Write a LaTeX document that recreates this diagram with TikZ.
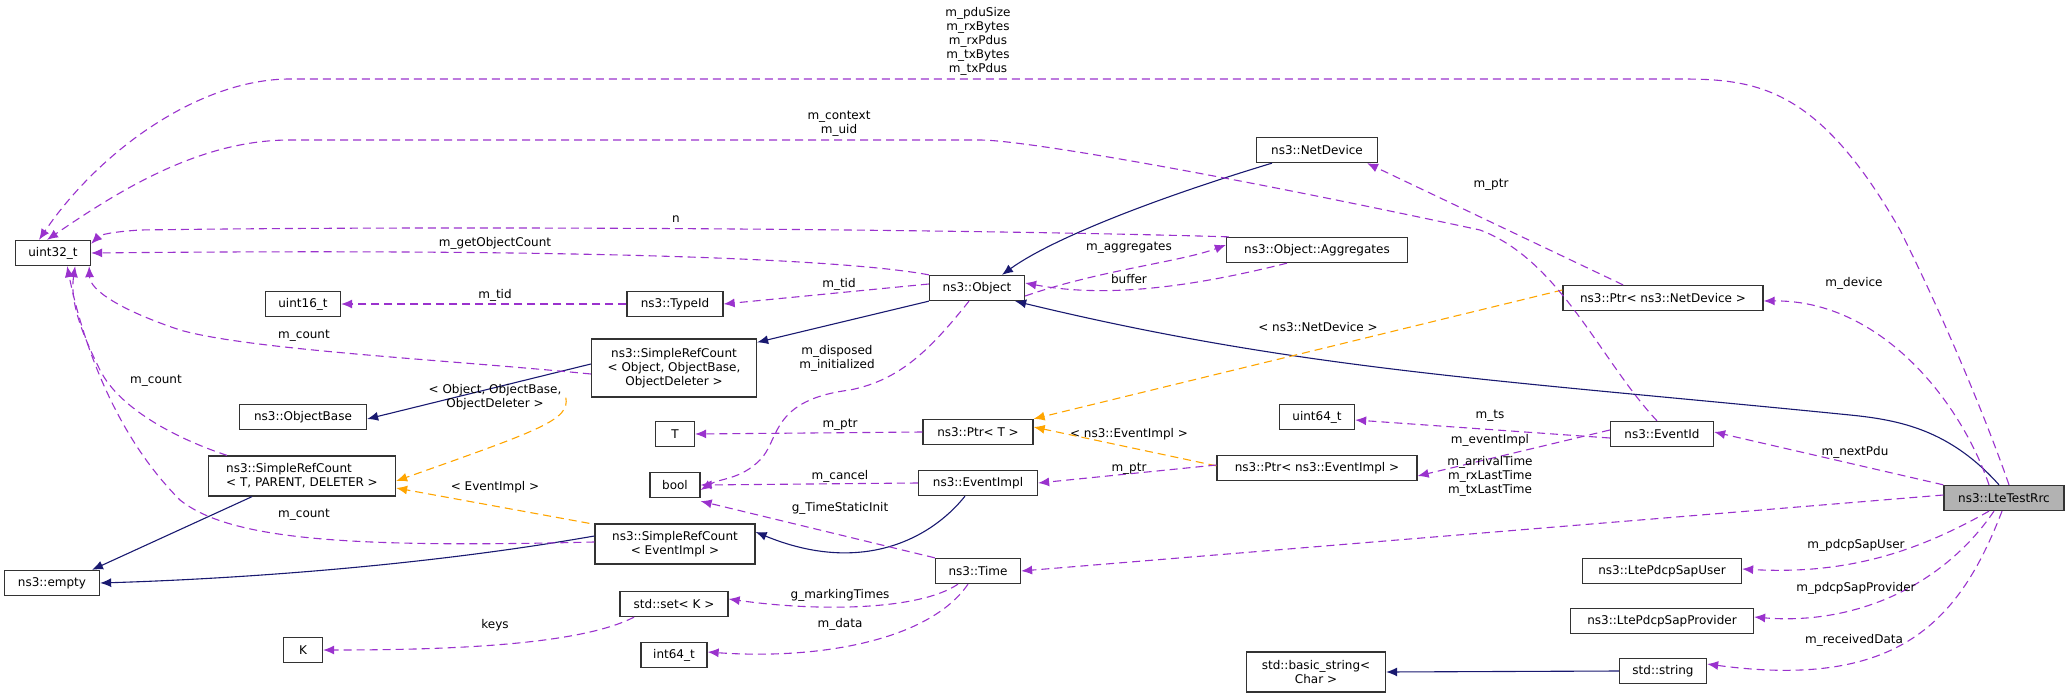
\documentclass[tikz,border=0pt]{standalone}
\usepackage{fontspec}
\setmainfont{DejaVu Sans}
\usetikzlibrary{arrows.meta}
\definecolor{rel}{HTML}{9A32CD}
\definecolor{tpl}{HTML}{FFA500}
\definecolor{inh}{HTML}{191970}
\begin{document}
\begin{tikzpicture}[x=1pt,y=-1pt,
  box/.style={draw=black!80,line width=1.3pt,fill=white,inner sep=1pt,font=\fontsize{12}{14}\selectfont,align=center,minimum height=25pt},
  rel/.style={draw=rel,line width=1.1pt,dash pattern=on 8pt off 5pt,-{Latex[length=11pt,width=9pt]}},
  tpl/.style={draw=tpl,line width=1.1pt,dash pattern=on 8pt off 5pt,-{Latex[length=11pt,width=9pt]}},
  inh/.style={draw=inh,line width=1.1pt,-{Latex[length=11pt,width=9pt]}},
  lb/.style={font=\fontsize{12}{14}\selectfont,align=center,inner sep=1pt}]
\useasboundingbox (0,0) rectangle (2069,698);
\node[box,minimum width=75pt] (u32) at (53,253) {uint32\_t};
\node[box,minimum width=75pt] (u16) at (303,304) {uint16\_t};
\node[box,minimum width=96pt] (tid) at (675,304) {ns3::TypeId};
\node[box,minimum width=95pt] (obj) at (977,288) {ns3::Object};
\node[box,minimum width=165pt,minimum height=58pt] (src) at (674,368) {ns3::SimpleRefCount\\< Object, ObjectBase,\\ObjectDeleter >};
\node[box,minimum width=127pt] (ob) at (303,417) {ns3::ObjectBase};
\node[box,minimum width=39pt] (T) at (675,434) {T};
\node[box,minimum width=110pt] (ptrT) at (978,432) {ns3::Ptr< T >};
\node[box,minimum width=50pt] (bool) at (675,485) {bool};
\node[box,minimum width=119pt] (ei) at (978,483) {ns3::EventImpl};
\node[box,minimum width=187pt,minimum height=40pt,align=left] (srt) at (302,476) {ns3::SimpleRefCount\\< T, PARENT, DELETER >};
\node[box,minimum width=160pt,minimum height=40pt] (sre) at (675,544) {ns3::SimpleRefCount\\< EventImpl >};
\node[box,minimum width=95pt] (emp) at (52,583) {ns3::empty};
\node[box,minimum width=85pt] (time) at (978,571) {ns3::Time};
\node[box,minimum width=108pt] (set) at (674,604) {std::set< K >};
\node[box,minimum width=39pt] (K) at (303,650) {K};
\node[box,minimum width=66pt] (i64) at (674,655) {int64\_t};
\node[box,minimum width=121pt] (nd) at (1317,150) {ns3::NetDevice};
\node[box,minimum width=181pt] (agg) at (1317,250) {ns3::Object::Aggregates};
\node[box,minimum width=200pt] (pnd) at (1663,298) {ns3::Ptr< ns3::NetDevice >};
\node[box,minimum width=75pt] (u64) at (1317,417) {uint64\_t};
\node[box,minimum width=200pt] (pei) at (1317,468) {ns3::Ptr< ns3::EventImpl >};
\node[box,minimum width=103pt] (eid) at (1662,434) {ns3::EventId};
\node[box,minimum width=120pt,fill=black!30] (rrc) at (2004,498) {ns3::LteTestRrc};
\node[box,minimum width=159pt] (psu) at (1662,571) {ns3::LtePdcpSapUser};
\node[box,minimum width=183pt] (psp) at (1662,621) {ns3::LtePdcpSapProvider};
\node[box,minimum width=139pt,minimum height=40pt] (bs) at (1316,672) {std::basic\_string<\\Char >};
\node[box,minimum width=87pt] (str) at (1663,671) {std::string};
% inheritance
\draw[inh] ([xshift=-45pt]nd.south) .. controls (1150,200) and (1050,240) .. ([xshift=25pt]obj.north);
\draw[inh] (obj.south west) -- ([yshift=-4pt]src.north east);
\draw[inh] ([xshift=-5pt]rrc.north) .. controls (1950,430) and (1900,420) .. (1850,415) .. controls (1500,380) and (1300,370) .. ([xshift=-10pt]obj.south east);
\draw[inh] ([yshift=4pt]src.west) -- ([yshift=-2pt]ob.east);
\draw[inh] ([xshift=-50pt]srt.south) -- ([xshift=40pt]emp.north);
\draw[inh] ([yshift=8pt]sre.west) .. controls (400,570) and (200,580) .. (emp.east);
\draw[inh] ([xshift=-13pt]ei.south) .. controls (930,540) and (860,575) .. ([yshift=12pt]sre.east);
\draw[inh] (str.west) -- (bs.east);
% templates
\draw[tpl] ([xshift=-25pt]src.south west) .. controls (570,420) and (540,430) .. ([yshift=-5pt]srt.east);
\draw[tpl] ([xshift=-5pt]sre.north west) -- ([yshift=-12pt]srt.east);
\draw[tpl] ([yshift=8pt]pnd.west) -- (ptrT.north east);
\draw[tpl] ([yshift=-11pt]pei.north west) -- ([yshift=5pt]ptrT.east);
\node[lb] at (495,397) {< Object, ObjectBase,\\ObjectDeleter >};
\node[lb] at (495,487) {< EventImpl >};
\node[lb] at (1318,327) {< ns3::NetDevice >};
\node[lb] at (1129,434) {< ns3::EventImpl >};
% relations to uint32_t
\draw[rel] ([xshift=5pt]rrc.north) .. controls (1990,430) and (1950,330) .. (1900,230) .. controls (1820,90) and (1760,79) .. (1682,79) -- (290,79) .. controls (200,79) and (100,150) .. ([xshift=-14pt]u32.north);
\node[lb] at (978,41) {m\_pduSize\\m\_rxBytes\\m\_rxPdus\\m\_txBytes\\m\_txPdus};
\draw[rel] ([xshift=-5pt]eid.north) .. controls (1600,360) and (1560,260) .. (1480,230) .. controls (1200,170) and (1020,140) .. (980,140) -- (290,140) .. controls (200,140) and (120,190) .. ([xshift=-6pt]u32.north);
\node[lb] at (839,124) {m\_context\\m\_uid};
\draw[rel] ([xshift=3pt]agg.north west) .. controls (1000,230) and (500,225) .. (140,230) .. controls (110,232) and (100,235) .. ([yshift=-4pt]u32.north east);
\node[lb] at (676,219) {n};
\draw[rel] (obj.north west) .. controls (850,260) and (600,248) .. (u32.east);
\node[lb] at (495,243) {m\_getObjectCount};
\draw[rel] ([yshift=-6pt]src.west) .. controls (450,360) and (250,350) .. (180,330) .. controls (120,310) and (90,290) .. ([xshift=-2pt]u32.south east);
\node[lb] at (304,336) {m\_count};
\draw[rel] ([xshift=-75pt]srt.north) .. controls (180,440) and (120,410) .. (100,370) .. controls (80,330) and (70,300) .. ([xshift=-16pt]u32.south east);
\node[lb] at (156,381) {m\_count};
\draw[rel] ([yshift=2pt]sre.west) .. controls (350,548) and (230,540) .. (180,500) .. controls (110,430) and (80,330) .. ([xshift=-24pt]u32.south east);
\node[lb] at (304,515) {m\_count};
% other relations
\draw[rel] (tid.west) -- (u16.east);
\node[lb] at (495,295) {m\_tid};
\draw[rel] ([yshift=4pt]obj.west) -- (tid.east);
\node[lb] at (839,284) {m\_tid};
\draw[rel] ([yshift=-8pt]obj.east) .. controls (1100,270) and (1180,262) .. ([yshift=5pt]agg.west);
\node[lb] at (1129,248) {m\_aggregates};
\draw[rel] ([xshift=-30pt]agg.south) .. controls (1180,290) and (1100,297) .. ([yshift=5pt]obj.east);
\node[lb] at (1129,279) {buffer};
\draw[rel] ([xshift=-8pt]obj.south) .. controls (930,350) and (900,380) .. (850,390) .. controls (770,400) and (780,440) .. (760,460) .. controls (740,480) and (720,478) .. ([yshift=-5pt]bool.east);
\node[lb] at (837,358) {m\_disposed\\m\_initialized};
\draw[rel] (ptrT.west) -- (T.east);
\node[lb] at (840,425) {m\_ptr};
\draw[rel] (ei.west) -- (bool.east);
\node[lb] at (840,476) {m\_cancel};
\draw[rel] (time.north west) -- ([yshift=-3pt]bool.south east);
\node[lb] at (840,508) {g\_TimeStaticInit};
\draw[rel] ([yshift=3pt]pei.west) -- (ei.east);
\node[lb] at (1129,469) {m\_ptr};
\draw[rel] ([yshift=-4pt]eid.west) -- ([yshift=-3pt]u64.east);
\node[lb] at (1490,416) {m\_ts};
\draw[rel] ([yshift=4pt]eid.west) -- ([yshift=-8pt]pei.east);
\node[lb] at (1490,440) {m\_eventImpl};
\draw[rel] ([xshift=-40pt]pnd.north) -- ([xshift=50pt]nd.south);
\node[lb] at (1491,185) {m\_ptr};
\draw[rel] ([xshift=-15pt]rrc.north) .. controls (1960,400) and (1880,300) .. ([yshift=-3pt]pnd.east);
\node[lb] at (1854,283) {m\_device};
\draw[rel] (rrc.north west) -- ([yshift=2pt]eid.east);
\node[lb] at (1855,452) {m\_nextPdu};
\draw[rel] ([yshift=3pt]rrc.west) -- (time.east);
\node[lb] at (1490,476) {m\_arrivalTime\\m\_rxLastTime\\m\_txLastTime};
\draw[rel] ([xshift=-15pt]rrc.south) .. controls (1920,550) and (1850,575) .. ([yshift=2pt]psu.east);
\node[lb] at (1856,545) {m\_pdcpSapUser};
\draw[rel] ([xshift=-10pt]rrc.south) .. controls (1940,590) and (1850,625) .. ([yshift=4pt]psp.east);
\node[lb] at (1856,588) {m\_pdcpSapProvider};
\draw[rel] ([xshift=-2pt]rrc.south) .. controls (1960,620) and (1900,690) .. ([yshift=7pt]str.east);
\node[lb] at (1854,640) {m\_receivedData};
\draw[rel] ([xshift=-20pt]time.south) .. controls (920,610) and (820,612) .. ([yshift=5pt]set.east);
\node[lb] at (840,595) {g\_markingTimes};
\draw[rel] ([xshift=-10pt]time.south) .. controls (930,640) and (820,660) .. ([yshift=3pt]i64.east);
\node[lb] at (840,624) {m\_data};
\draw[rel] ([xshift=-40pt]set.south) .. controls (580,645) and (450,650) .. (K.east);
\node[lb] at (495,625) {keys};
\end{tikzpicture}
\end{document}
